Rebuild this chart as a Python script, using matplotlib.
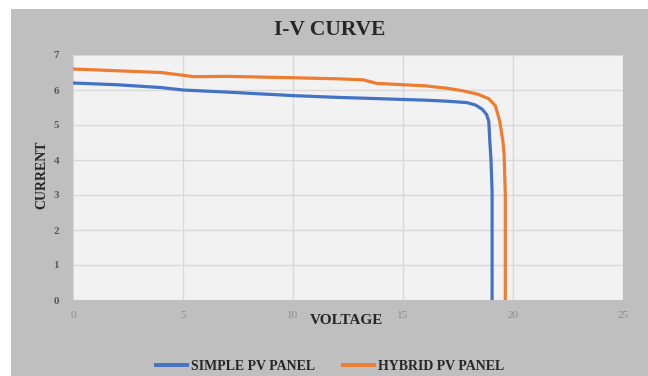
import numpy as np
import matplotlib
matplotlib.use("Agg")
import matplotlib.pyplot as plt
from matplotlib.patches import Rectangle

# I-V data
simple_v = [0, 2, 4, 5, 7, 8.5, 10, 12, 14, 15, 16, 17, 17.9, 18.3, 18.6, 18.8, 18.9, 18.95, 19.0, 19.05, 19.05]
simple_i = [6.2, 6.15, 6.07, 6.0, 5.94, 5.89, 5.84, 5.79, 5.75, 5.73, 5.71, 5.68, 5.64, 5.57, 5.45, 5.3, 5.1, 4.5, 4.0, 3.1, 0]

hybrid_v = [0, 2, 4, 5, 5.5, 7, 8.5, 10, 12, 13.2, 13.8, 15, 16, 17, 17.7, 18.4, 18.9, 19.2, 19.4, 19.55, 19.6, 19.65, 19.65]
hybrid_i = [6.6, 6.55, 6.5, 6.42, 6.38, 6.39, 6.37, 6.35, 6.32, 6.29, 6.19, 6.15, 6.12, 6.05, 5.98, 5.88, 5.75, 5.55, 5.1, 4.5, 4.1, 3.0, 0]

x_ticks = [0, 5, 10, 15, 20, 25]
y_ticks = [0, 1, 2, 3, 4, 5, 6, 7]

W, H = 648, 376
fig = plt.figure(figsize=(W/100, H/100), dpi=100, facecolor="white")
# gray chart area with white margin on top/left
bg = Rectangle((11/W, 0), 1 - 11/W, 1 - 9/H, transform=fig.transFigure,
               facecolor="#bfbfbf", edgecolor="none", zorder=-10)
fig.add_artist(bg)

ax = fig.add_axes([73/W, 76/H, 550/W, 245/H])
ax.set_zorder(1)
ax.set_facecolor("#f2f2f2")
for s in ax.spines.values():
    s.set_visible(False)

ax.plot(simple_v, simple_i, color="#4472C4", lw=2.3, label="SIMPLE PV PANEL", solid_capstyle="butt")
ax.plot(hybrid_v, hybrid_i, color="#ED7D31", lw=2.3, label="HYBRID PV PANEL", solid_capstyle="butt")

ax.set_xlim(0, 25)
ax.set_ylim(0, 7)
ax.set_xticks(x_ticks)
ax.set_yticks(y_ticks)
ax.grid(True, color="#d9d9d9", lw=1)
ax.set_axisbelow(True)
ax.tick_params(length=0)
ax.tick_params(axis="x", pad=8, labelsize=8, labelcolor="#8c8c8c")
ax.tick_params(axis="y", pad=10, labelsize=8, labelcolor="#595959")
for lab in ax.get_xticklabels() + ax.get_yticklabels():
    lab.set_fontfamily("Liberation Serif")
for lab in ax.get_yticklabels():
    lab.set_fontweight("bold")

ax.set_xlabel("VOLTAGE", fontfamily="Liberation Serif", fontweight="bold", fontsize=11, color="#262626")
ax.xaxis.set_label_coords(0.498, -0.082)
ax.xaxis.label.set_va("center")
ax.set_ylabel("CURRENT", fontfamily="Liberation Serif", fontweight="bold", fontsize=10, color="#262626")
ax.yaxis.set_label_coords(-0.056, 0.51)
ax.yaxis.label.set_va("center")

fig.text(330/W, 1 - 30/H, "I-V CURVE", ha="center", va="center", fontfamily="Liberation Serif",
         fontweight="bold", fontsize=15.5, color="#262626")

leg = fig.legend(loc="center", bbox_to_anchor=(329/W, 1 - 366/H), ncol=2, frameon=False,
                 handlelength=2.5, handletextpad=0.15, columnspacing=1.9,
                 prop={"family": "Liberation Serif", "weight": "bold", "size": 10})
for t in leg.get_texts():
    t.set_color("#262626")
for l in leg.get_lines():
    l.set_linewidth(2.8)

fig.savefig("out.png", dpi=100, facecolor=fig.get_facecolor())
